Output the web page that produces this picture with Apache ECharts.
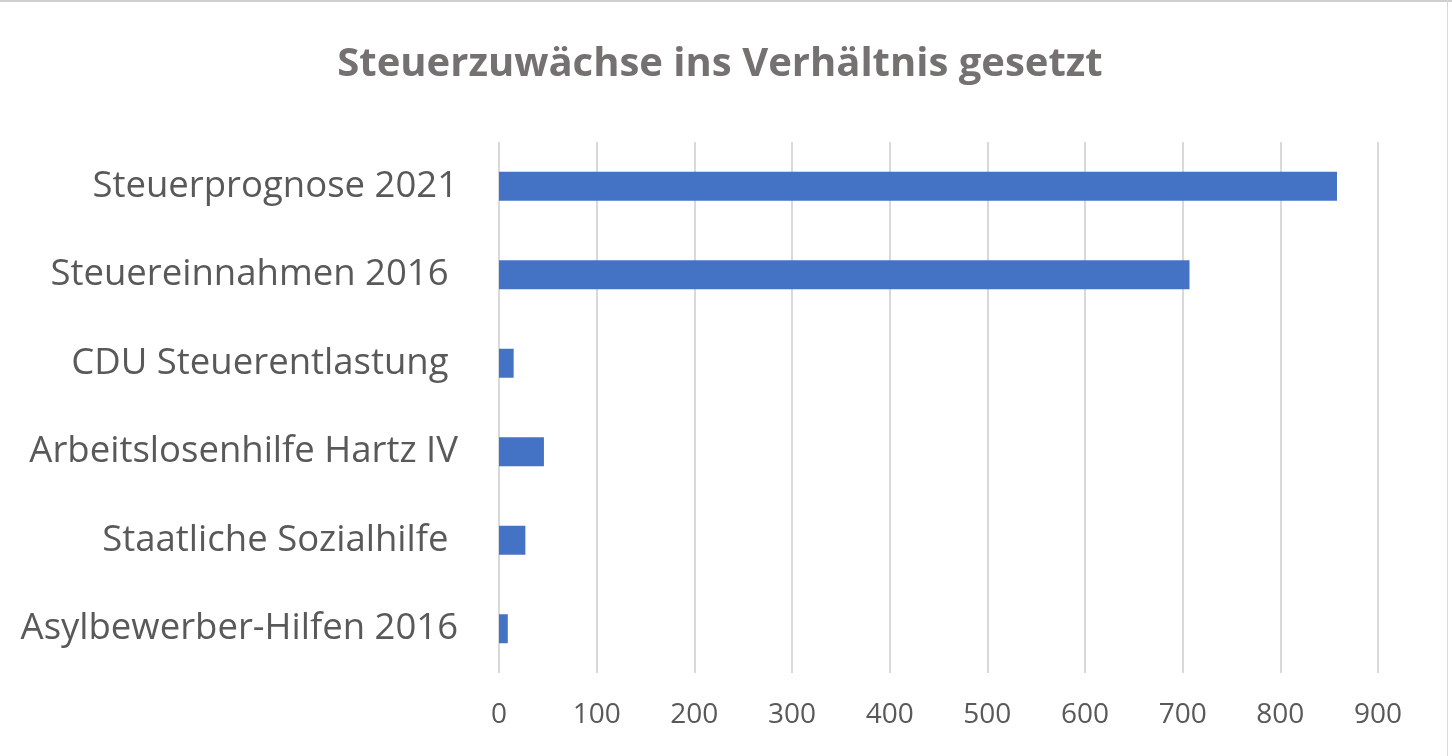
<!DOCTYPE html>
<html>
<head>
<meta charset="utf-8">
<script src="https://cdn.jsdelivr.net/npm/echarts@6/dist/echarts.min.js"></script>
<style>
html,body{margin:0;padding:0;background:#fff;}
#chart{width:1452px;height:756px;}
</style>
</head>
<body>
<div id="chart"></div>
<script>
const titleText = 'Steuerzuwächse ins Verhältnis gesetzt';
const categories = [
  'Steuerprognose 2021',
  'Steuereinnahmen 2016 ',
  'CDU Steuerentlastung ',
  'Arbeitslosenhilfe Hartz IV',
  'Staatliche Sozialhilfe ',
  'Asylbewerber-Hilfen 2016'
];
const values = [858, 707, 15, 46, 27, 9];
const xTicks = [0, 100, 200, 300, 400, 500, 600, 700, 800, 900];

const chart = echarts.init(document.getElementById('chart'), null, {renderer: 'canvas'});
chart.setOption({
  backgroundColor: '#ffffff',
  animation: false,
  title: {
    text: titleText,
    left: 715,
    textAlign: 'center',
    top: 40,
    textStyle: {
      fontFamily: 'Open Sans',
      fontWeight: 'bold',
      fontSize: 40,
      color: '#767171'
    }
  },
  grid: {left: 499, right: 74, top: 142, bottom: 83, containLabel: false},
  xAxis: {
    type: 'value',
    min: xTicks[0],
    max: xTicks[xTicks.length - 1],
    interval: 100,
    axisLine: {show: false},
    axisTick: {show: false},
    splitLine: {lineStyle: {color: '#d9d9d9', width: 2}},
    axisLabel: {
      margin: 28,
      fontFamily: 'Open Sans',
      fontSize: 28,
      color: '#595959'
    }
  },
  yAxis: {
    type: 'category',
    inverse: true,
    data: categories,
    axisLine: {show: false},
    axisTick: {show: false},
    axisLabel: {
      margin: 41,
      fontFamily: 'Open Sans',
      fontSize: 36.5,
      color: '#595959',
      padding: [6, 0, 0, 0]
    }
  },
  series: [{
    type: 'bar',
    data: values,
    barWidth: 29,
    itemStyle: {color: '#4472C4'}
  }],
  graphic: [
    {type: 'line', shape: {x1: 0, y1: 1, x2: 1452, y2: 1}, style: {stroke: '#cfcfcf', lineWidth: 2}},
    {type: 'line', shape: {x1: 1447.5, y1: 0, x2: 1447.5, y2: 756}, style: {stroke: '#d9d9d9', lineWidth: 1}}
  ]
});
</script>
</body>
</html>
